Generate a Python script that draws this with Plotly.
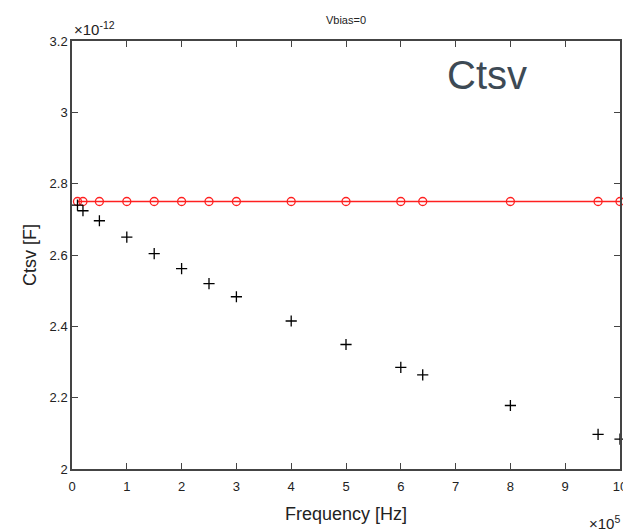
import plotly.graph_objects as go

# Frequency in units of 1e5 Hz, capacitance in units of 1e-12 F
freq = [0.1, 0.2, 0.5, 1, 1.5, 2, 2.5, 3, 4, 5, 6, 6.4, 8, 9.6, 10]
c_model = [2.75] * len(freq)
c_meas = [2.740, 2.724, 2.696, 2.650, 2.604, 2.562, 2.520, 2.483, 2.415,
          2.349, 2.285, 2.264, 2.178, 2.097, 2.084]

x_ticks = [0, 1, 2, 3, 4, 5, 6, 7, 8, 9, 10]
y_ticks = [2, 2.2, 2.4, 2.6, 2.8, 3, 3.2]
y_ticklabels = ["2", "2.2", "2.4", "2.6", "2.8", "3", "3.2"]

font = "Liberation Sans, Arial, sans-serif"
axis_col = "#444444"

W, H = 623, 531
ML, MR, MT, MB = 72, 3, 41, 62
pw = W - ML - MR
ph = H - MT - MB

fig = go.Figure()
fig.add_trace(go.Scatter(
    x=freq, y=c_model, mode="lines+markers",
    line=dict(color="#ff2020", width=1.3),
    marker=dict(symbol="circle-open", size=8, color="#ff2020", line=dict(width=1.3)),
    showlegend=False, cliponaxis=False))
fig.add_trace(go.Scatter(
    x=freq, y=c_meas, mode="markers",
    marker=dict(symbol="cross-thin-open", size=8, color="black", line=dict(width=1.3, color="black")),
    showlegend=False, cliponaxis=False))

fig.update_layout(
    width=W, height=H,
    margin=dict(l=ML, r=MR, t=MT, b=MB, autoexpand=False),
    paper_bgcolor="white", plot_bgcolor="white",
    font=dict(family=font, size=13, color="#222222"),
    title=dict(text="Vbias=0", x=0.5, xref="paper", xanchor="center", y=1 - 20 / H, yanchor="middle",
               font=dict(size=11, color="#222222")),
    xaxis=dict(range=[0, 10], tickvals=x_ticks, ticktext=[str(v) for v in x_ticks],
               ticks="inside", ticklen=6, tickcolor=axis_col, tickwidth=1,
               showline=True, linecolor=axis_col, linewidth=1.5, mirror="ticks",
               showgrid=False, zeroline=False, ticklabeloverflow="allow",
               ticklabelstandoff=5, automargin=False,
               title=dict(text="Frequency [Hz]", font=dict(size=18), standoff=14)),
    yaxis=dict(range=[2, 3.2], tickvals=y_ticks, ticktext=y_ticklabels,
               ticks="inside", ticklen=6, tickcolor=axis_col, tickwidth=1,
               showline=True, linecolor=axis_col, linewidth=1.5, mirror="ticks",
               showgrid=False, zeroline=False, automargin=False,
               title=dict(text="Ctsv [F]", font=dict(size=18), standoff=8)),
    annotations=[
        dict(text="Ctsv", x=(487 - ML) / pw, y=(H - MB - 75) / ph, xref="paper", yref="paper",
             xanchor="center", yanchor="middle", showarrow=False,
             font=dict(size=40, color="#3d4a55", family=font)),
        dict(text="×10<sup>-12</sup>", x=0.0, y=1.0, xref="paper", yref="paper",
             xanchor="left", yanchor="bottom", showarrow=False, yshift=1,
             font=dict(size=15, color="#222222")),
        dict(text="×10<sup>5</sup>", x=1.0, y=0, xref="paper", yref="paper",
             xanchor="right", yanchor="top", showarrow=False, yshift=-42, xshift=2,
             font=dict(size=15, color="#222222")),
    ],
)

fig.write_html("out.html")
